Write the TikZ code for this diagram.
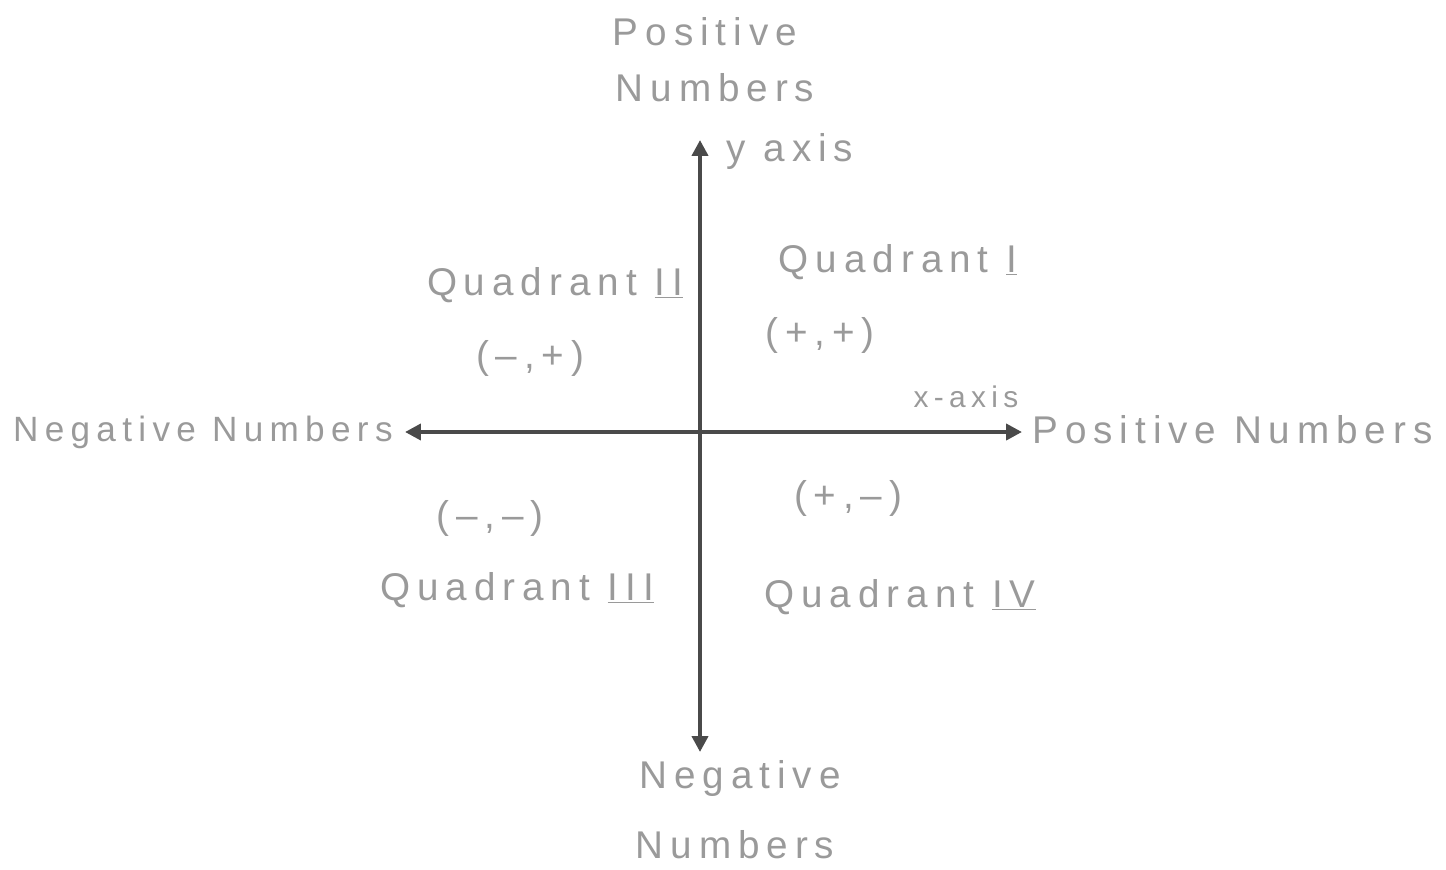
\documentclass[tikz,border=0pt]{standalone}
\usepackage{fontspec}
\usepackage{xcolor}
\usetikzlibrary{arrows.meta}
\newfontfamily\handfont[LetterSpace=18]{Liberation Sans}
\definecolor{qgray}{HTML}{9A9A9A}
\definecolor{axgray}{HTML}{4A4A4A}
\tikzset{
  hand/.style={font=\handfont\fontsize{22}{26}\selectfont, text=qgray, inner sep=0pt},
  smallhand/.style={font=\handfont\fontsize{17}{20}\selectfont, text=qgray, inner sep=0pt},
  axis line/.style={draw=axgray, line width=2.2pt, {Triangle[length=9pt,width=9pt]}-{Triangle[length=9pt,width=9pt]}}
}

\begin{document}
\begin{tikzpicture}[x=0.02cm, y=-0.02cm]
\useasboundingbox (0,0) rectangle (1446,869);
% axes
\coordinate (xl) at (405,432);
\coordinate (xr) at (1022,432);
\coordinate (yt) at (700,140);
\coordinate (yb) at (700,752);
\draw[axis line] (xl) -- (xr);
\draw[axis line] (yt) -- (yb);
% axis ends
\node[hand] (posTop1) at (705,32) {Positive};
\node[hand] (posTop2) at (715,88) {Numbers};
\node[hand] (negBot1) at (740,778) {Negative};
\node[hand] (negBot2) at (735,845) {Numbers};
\node[hand, anchor=west] (posRight) at (1032,430) {Positive Numbers};
\node[hand, font=\handfont\fontsize{20}{24}\selectfont, anchor=east] (negLeft) at (393,432) {Negative Numbers};
\node[hand] (yAxis) at (790,152) {y axis};
\node[smallhand] (xAxis) at (966,397) {x-axis};
% quadrants
\node[hand] (quadI) at (898,262) {Quadrant \underline{I}};
\node[hand] (signsI) at (820,335) {(+,\,+)};
\node[hand] (quadII) at (555,285) {Quadrant \underline{II}};
\node[hand] (signsII) at (530,358) {(–,\,+)};
\node[hand] (signsIII) at (490,518) {(–,\,–)};
\node[hand] (quadIII) at (517,590) {Quadrant \underline{III}};
\node[hand] (signsIV) at (848,498) {(+,\,–)};
\node[hand] (quadIV) at (900,597) {Quadrant \underline{IV}};
\end{tikzpicture}
\end{document}
